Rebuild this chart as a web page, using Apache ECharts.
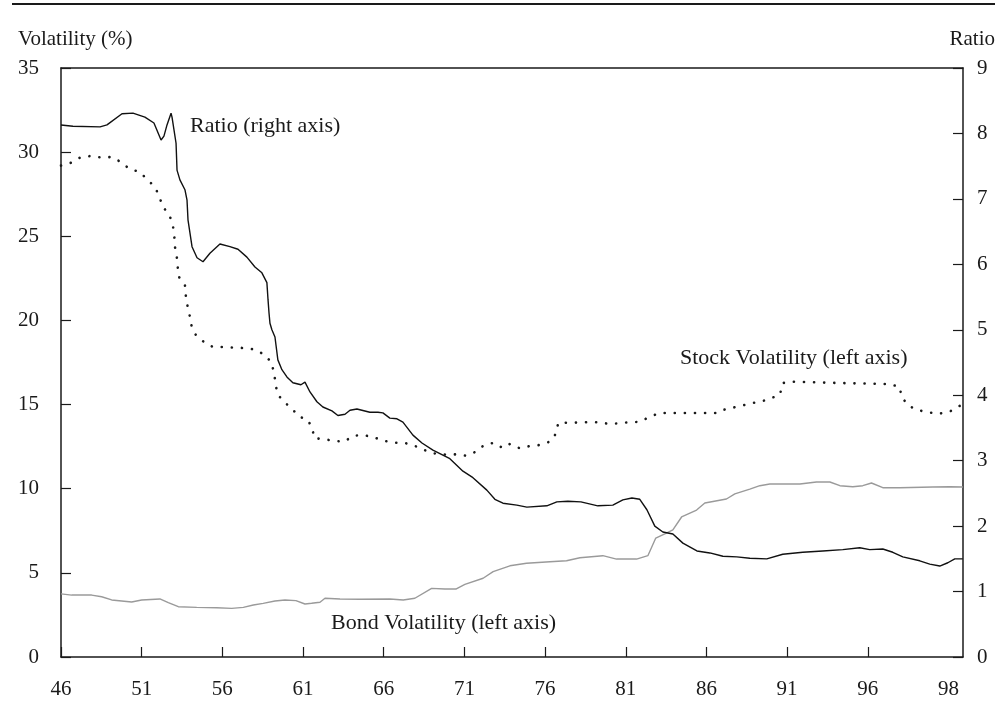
<!DOCTYPE html>
<html>
<head>
<meta charset="utf-8">
<script src="https://cdn.jsdelivr.net/npm/echarts@6/dist/echarts.min.js"></script>
<style>html,body{margin:0;padding:0;background:#fff}#c{width:995px;height:702px}</style>
</head>
<body>
<div id="c"></div>
<script>
// x = years on the plot scale after 1946 (tick "46" at 0, "96" at 50, "98" label at 55)
var xTickLabels = ['46','51','56','61','66','71','76','81','86','91','96','98'];
var leftAxisName = 'Volatility (%)';
var rightAxisName = 'Ratio';

// Ratio (right axis)
var ratioPts = [
[0,8.13],[0.74,8.11],[2.42,8.10],[2.85,8.13],[3.78,8.30],[4.46,8.31],[5.20,8.25],[5.76,8.16],
[6.20,7.90],[6.38,7.96],[6.57,8.13],[6.82,8.31],[6.88,8.25],[7.13,7.85],[7.19,7.44],[7.37,7.29],
[7.68,7.14],[7.81,6.98],[7.87,6.68],[8.12,6.27],[8.43,6.10],[8.80,6.04],[9.23,6.17],[9.85,6.31],
[10.47,6.27],[10.97,6.23],[11.52,6.11],[12.02,5.96],[12.45,5.87],[12.76,5.72],[12.83,5.46],
[12.89,5.26],[12.95,5.10],[13.07,5.00],[13.26,4.89],[13.44,4.54],[13.69,4.39],[14.00,4.28],
[14.37,4.19],[14.87,4.16],[15.12,4.20],[15.43,4.05],[15.86,3.90],[16.23,3.82],[16.79,3.76],
[17.16,3.69],[17.60,3.71],[17.91,3.77],[18.34,3.79],[19.14,3.74],[19.64,3.74],[19.95,3.73],
[20.38,3.65],[20.82,3.64],[21.19,3.59],[21.81,3.39],[22.37,3.27],[23.05,3.16],[24.10,3.03],
[24.91,2.84],[25.53,2.74],[26.39,2.55],[26.89,2.41],[27.39,2.35],[28.25,2.32],[28.87,2.29],
[30.11,2.31],[30.73,2.37],[31.41,2.38],[32.22,2.37],[33.27,2.31],[34.20,2.32],[34.82,2.40],
[35.38,2.43],[35.87,2.41],[36.31,2.25],[36.80,2.00],[37.30,1.91],[37.92,1.88],[38.54,1.74],
[39.41,1.62],[40.21,1.59],[41.02,1.54],[41.88,1.53],[42.69,1.51],[43.74,1.50],[44.73,1.57],
[45.97,1.60],[47.21,1.62],[48.45,1.64],[49.50,1.67],[50.12,1.64],[50.93,1.65],[51.55,1.60],
[52.17,1.53],[53.22,1.47],[53.84,1.42],[54.46,1.39],[54.96,1.44],[55.39,1.50],[55.89,1.50]
];

// Stock volatility (left axis, %)
var stockPts = [
[0,29.2],[0.66,29.38],[1.24,29.71],[1.86,29.77],[2.52,29.68],[3.14,29.71],[3.72,29.41],[4.28,28.97],
[4.86,28.84],[5.35,28.37],[5.82,27.93],[6.10,27.35],[6.30,26.76],[6.69,26.32],[6.92,25.73],
[7.02,25.07],[7.06,24.38],[7.17,23.83],[7.23,23.23],[7.27,22.64],[7.68,22.10],[7.73,21.51],
[7.85,20.81],[7.99,20.22],[8.10,19.63],[8.36,19.13],[8.92,18.67],[9.42,18.42],[10.04,18.42],
[10.78,18.38],[11.40,18.36],[12.02,18.27],[12.64,17.94],[13.05,17.49],[13.20,16.87],[13.30,16.28],
[13.40,15.63],[13.82,15.17],[14.33,14.74],[14.75,14.28],[15.26,14.12],[15.57,13.62],[15.69,13.01],
[16.29,12.94],[16.93,12.85],[17.55,12.79],[18.11,13.15],[18.73,13.19],[19.39,13.05],[20.01,12.85],
[20.63,12.73],[21.27,12.73],[21.89,12.56],[22.51,12.30],[23.13,12.10],[23.79,12.03],[24.47,12.04],
[25.11,11.96],[25.71,12.20],[26.23,12.60],[26.83,12.73],[27.37,12.42],[27.82,12.66],[28.44,12.40],
[29.08,12.54],[29.70,12.60],[30.30,12.80],[30.69,13.29],[30.81,13.90],[31.46,13.93],[32.16,13.93],
[32.78,13.96],[33.40,13.95],[34.01,13.84],[34.94,13.93],[35.87,13.98],[36.49,14.28],[37.11,14.50],
[38.97,14.50],[40.63,14.50],[41.02,14.68],[42.07,14.91],[42.87,15.09],[43.49,15.21],[44.55,15.57],
[44.73,16.28],[45.35,16.36],[48.27,16.28],[51.36,16.22],[51.98,16.04],[52.09,15.47],[52.48,14.97],
[53.02,14.68],[54.34,14.44],[55.08,14.58],[55.58,14.87],[55.89,15.00]
];

// Bond volatility (left axis, %)
var bondPts = [
[0,3.75],[0.66,3.68],[1.90,3.68],[2.52,3.58],[3.14,3.39],[4.38,3.27],[5.00,3.39],[6.13,3.45],
[6.65,3.23],[7.27,2.99],[8.41,2.95],[9.65,2.93],[10.58,2.89],[11.30,2.95],[11.92,3.09],[12.53,3.19],
[13.26,3.33],[13.88,3.39],[14.56,3.35],[15.12,3.15],[15.53,3.19],[16.05,3.25],[16.36,3.49],
[17.29,3.45],[18.53,3.43],[20.38,3.45],[21.21,3.39],[21.93,3.49],[22.97,4.08],[23.79,4.04],
[24.47,4.04],[25.03,4.32],[26.16,4.68],[26.78,5.07],[27.82,5.42],[28.85,5.57],[30.30,5.66],
[31.33,5.72],[32.16,5.90],[33.58,6.02],[34.43,5.82],[35.67,5.82],[36.37,6.02],[36.86,7.07],
[37.42,7.31],[37.92,7.55],[38.46,8.32],[39.39,8.73],[39.90,9.15],[41.24,9.39],[41.76,9.69],
[42.69,9.98],[43.31,10.18],[43.93,10.28],[45.79,10.28],[46.82,10.40],[47.65,10.40],[48.27,10.18],
[49.07,10.12],[49.69,10.18],[50.23,10.34],[50.93,10.06],[51.98,10.06],[54.03,10.10],[55.08,10.12],
[55.89,10.10]
];

var ratioLabel = 'Ratio (right axis)';
var stockLabel = 'Stock Volatility (left axis)';
var bondLabel = 'Bond Volatility (left axis)';

var FONT = 'Liberation Serif';
var INK = '#1a1a1a';
var chart = echarts.init(document.getElementById('c'), null, {renderer: 'canvas'});

var tickVals = [];
for (var i = 0; i <= 50; i += 5) tickVals.push(i);
var labelVals = tickVals.concat([55]);

chart.setOption({
  animation: false,
  backgroundColor: '#fff',
  grid: {left: 61, right: 32, top: 68, bottom: 45, containLabel: false},
  xAxis: [{
    type: 'value', position: 'bottom', min: 0, max: 55.9, interval: 5,
    axisLine: {show: true, onZero: false, lineStyle: {color: INK, width: 1.5}},
    axisTick: {show: true, inside: true, length: 10, customValues: tickVals, lineStyle: {color: INK, width: 1.2}},
    axisLabel: {customValues: labelVals, margin: 22, fontFamily: FONT, fontSize: 21, color: INK,
      formatter: function (v) { return xTickLabels[Math.round(v / 5)]; }},
    splitLine: {show: false}
  }, {
    type: 'value', position: 'top', min: 0, max: 55.9,
    axisLine: {show: true, onZero: false, lineStyle: {color: INK, width: 1.5}},
    axisTick: {show: false}, axisLabel: {show: false}, splitLine: {show: false}
  }],
  yAxis: [{
    type: 'value', position: 'left', min: 0, max: 35, interval: 5,
    axisLine: {show: true, onZero: false, lineStyle: {color: INK, width: 1.5}},
    axisTick: {show: true, inside: true, length: 10, lineStyle: {color: INK, width: 1.2}},
    axisLabel: {margin: 22, fontFamily: FONT, fontSize: 21, color: INK},
    splitLine: {show: false}
  }, {
    type: 'value', position: 'right', min: 0, max: 9, interval: 1,
    axisLine: {show: true, onZero: false, lineStyle: {color: INK, width: 1.5}},
    axisTick: {show: true, inside: true, length: 10, lineStyle: {color: INK, width: 1.2}},
    axisLabel: {margin: 14, fontFamily: FONT, fontSize: 21, color: INK},
    splitLine: {show: false}
  }],
  series: [{
    name: 'Bond', type: 'line', yAxisIndex: 0, data: bondPts, showSymbol: false, smooth: false,
    lineStyle: {color: '#9a9a9a', width: 1.4}, z: 2
  }, {
    name: 'Stock', type: 'line', yAxisIndex: 0, data: stockPts, showSymbol: false,
    lineStyle: {color: '#1a1a1a', width: 2.6, type: [0.1, 10], cap: 'round'}, z: 3
  }, {
    name: 'Ratio', type: 'line', yAxisIndex: 1, data: ratioPts, showSymbol: false,
    lineStyle: {color: '#111', width: 1.4}, z: 4
  }],
  graphic: [
    {type: 'line', shape: {x1: 12, y1: 4, x2: 995, y2: 4}, style: {stroke: INK, lineWidth: 2}},
    {type: 'text', left: 18, top: 29, style: {text: leftAxisName, font: '21px "' + FONT + '"', fill: INK}},
    {type: 'text', right: 0, top: 29, style: {text: rightAxisName, font: '21px "' + FONT + '"', fill: INK}},
    {type: 'text', left: 190, top: 115, style: {text: ratioLabel, font: '22px "' + FONT + '"', fill: INK}},
    {type: 'text', left: 680, top: 347, style: {text: stockLabel, font: '22px "' + FONT + '"', fill: INK}},
    {type: 'text', left: 331, top: 612, style: {text: bondLabel, font: '22px "' + FONT + '"', fill: INK}}
  ]
});
</script>
</body>
</html>
